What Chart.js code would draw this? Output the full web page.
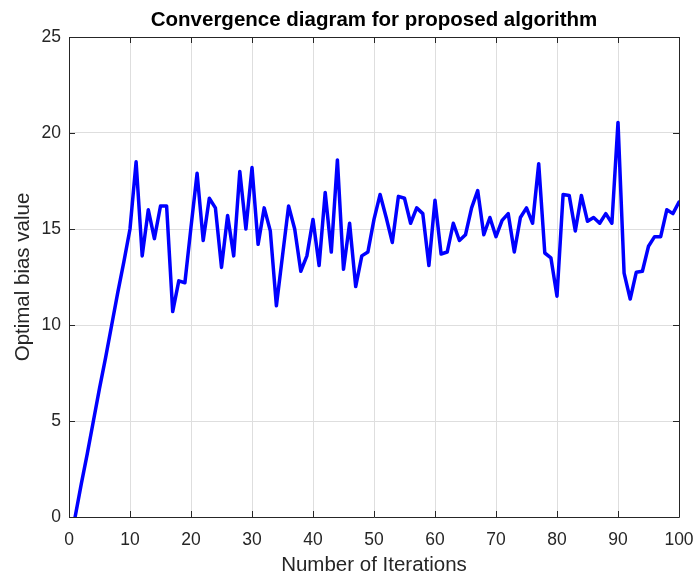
<!DOCTYPE html>
<html>
<head>
<meta charset="utf-8">
<script src="https://cdn.jsdelivr.net/npm/chart.js@4"></script>
<style>
  html, body { margin: 0; padding: 0; background: #ffffff; }
  canvas { display: block; }
</style>
</head>
<body>
<canvas id="c" width="694" height="577"></canvas>
<script>
const chartTitle = 'Convergence diagram for proposed algorithm';
const xAxisTitle = 'Number of Iterations';
const yAxisTitle = 'Optimal bias value';

const iterations = [
  1, 2, 3, 4, 5, 6, 7, 8, 9, 10,
  11, 12, 13, 14, 15, 16, 17, 18, 19, 20,
  21, 22, 23, 24, 25, 26, 27, 28, 29, 30,
  31, 32, 33, 34, 35, 36, 37, 38, 39, 40,
  41, 42, 43, 44, 45, 46, 47, 48, 49, 50,
  51, 52, 53, 54, 55, 56, 57, 58, 59, 60,
  61, 62, 63, 64, 65, 66, 67, 68, 69, 70,
  71, 72, 73, 74, 75, 76, 77, 78, 79, 80,
  81, 82, 83, 84, 85, 86, 87, 88, 89, 90,
  91, 92, 93, 94, 95, 96, 97, 98, 99, 100
];

const biasValues = [
  0, 1.7, 3.3, 5.0, 6.7, 8.3, 10.0, 11.7, 13.3, 15.0,
  18.5, 13.6, 16.0, 14.5, 16.2, 16.2, 10.7, 12.3, 12.2, 15.1,
  17.9, 14.4, 16.6, 16.1, 13.0, 15.7, 13.6, 18.0, 15.0, 18.2,
  14.2, 16.1, 14.9, 11.0, 13.6, 16.2, 15.0, 12.8, 13.6, 15.5,
  13.1, 16.9, 13.8, 18.6, 12.9, 15.3, 12.0, 13.6, 13.8, 15.5,
  16.8, 15.6, 14.3, 16.7, 16.6, 15.3, 16.1, 15.8, 13.1, 16.5,
  13.7, 13.8, 15.3, 14.4, 14.7, 16.1, 17.0, 14.7, 15.6, 14.6,
  15.45, 15.8, 13.8, 15.6, 16.1, 15.3, 18.4, 13.75, 13.5, 11.5,
  16.8, 16.75, 14.9, 16.75, 15.4, 15.6, 15.3, 15.8, 15.3, 20.55,
  12.7, 11.35, 12.75, 12.8, 14.1, 14.6, 14.6, 16.0, 15.8, 16.4
];

const xTickValues = [0, 10, 20, 30, 40, 50, 60, 70, 80, 90, 100];
const yTickValues = [0, 5, 10, 15, 20, 25];

const FONT = '"Liberation Sans", Arial, Helvetica, sans-serif';
const AXIS_COLOR = '#262626';

const framePlugin = {
  id: 'frame',
  afterDraw(chart) {
    const { ctx, chartArea: a, scales: { x, y } } = chart;
    ctx.save();
    ctx.strokeStyle = AXIS_COLOR;
    ctx.lineWidth = 1;
    ctx.beginPath();
    ctx.rect(Math.round(a.left) + 0.5, Math.round(a.top) + 0.5,
             Math.round(a.right) - Math.round(a.left), Math.round(a.bottom) - Math.round(a.top));
    ctx.stroke();
    const tl = 6;
    ctx.beginPath();
    xTickValues.forEach(v => {
      const px = Math.round(x.getPixelForValue(v)) + 0.5;
      ctx.moveTo(px, a.bottom); ctx.lineTo(px, a.bottom - tl);
      ctx.moveTo(px, a.top); ctx.lineTo(px, a.top + tl);
    });
    yTickValues.forEach(v => {
      const py = Math.round(y.getPixelForValue(v)) + 0.5;
      ctx.moveTo(a.left, py); ctx.lineTo(a.left + tl, py);
      ctx.moveTo(a.right, py); ctx.lineTo(a.right - tl, py);
    });
    ctx.stroke();
    ctx.restore();
  }
};

new Chart(document.getElementById('c'), {
  type: 'line',
  data: {
    datasets: [{
      data: iterations.map((it, i) => ({ x: it, y: biasValues[i] })),
      borderColor: '#0000ff',
      borderWidth: 3.5,
      borderJoinStyle: 'round',
      borderCapStyle: 'round',
      pointRadius: 0,
      tension: 0,
      fill: false
    }]
  },
  options: {
    responsive: false,
    animation: false,
    devicePixelRatio: 1,
    layout: { padding: { left: 0, right: 15, top: 0, bottom: 0 } },
    plugins: {
      legend: { display: false },
      tooltip: { enabled: false },
      title: {
        display: true,
        text: chartTitle,
        fullSize: false,
        color: '#000000',
        font: { family: FONT, size: 20.5, weight: 'bold', lineHeight: 1.2 },
        padding: { top: 8, bottom: 4.4 }
      }
    },
    scales: {
      x: {
        type: 'linear',
        min: 0,
        max: 100,
        afterFit(scale) { scale.height = 60; scale.paddingLeft = 0; scale.paddingRight = 0; },
        afterBuildTicks(scale) { scale.ticks = xTickValues.map(v => ({ value: v })); },
        grid: { color: '#dedede', lineWidth: 1, drawTicks: false },
        border: { display: false },
        ticks: {
          color: AXIS_COLOR,
          padding: 12.5,
          maxRotation: 0,
          font: { family: FONT, size: 17.5 }
        },
        title: {
          display: true,
          text: xAxisTitle,
          color: AXIS_COLOR,
          font: { family: FONT, size: 20.5, lineHeight: 1.0 },
          padding: { top: 0, bottom: 1 }
        }
      },
      y: {
        type: 'linear',
        min: 0,
        max: 25,
        afterFit(scale) { scale.width = 69; scale.paddingTop = 0; scale.paddingBottom = 0; },
        afterBuildTicks(scale) { scale.ticks = yTickValues.map(v => ({ value: v })); },
        grid: { color: '#dedede', lineWidth: 1, drawTicks: false },
        border: { display: false },
        ticks: {
          color: AXIS_COLOR,
          padding: 8,
          font: { family: FONT, size: 17.5 }
        },
        title: {
          display: true,
          text: yAxisTitle,
          color: AXIS_COLOR,
          font: { family: FONT, size: 20.5, lineHeight: 1.2 },
          padding: { top: 11, bottom: 0 }
        }
      }
    }
  },
  plugins: [framePlugin]
});
</script>
</body>
</html>
